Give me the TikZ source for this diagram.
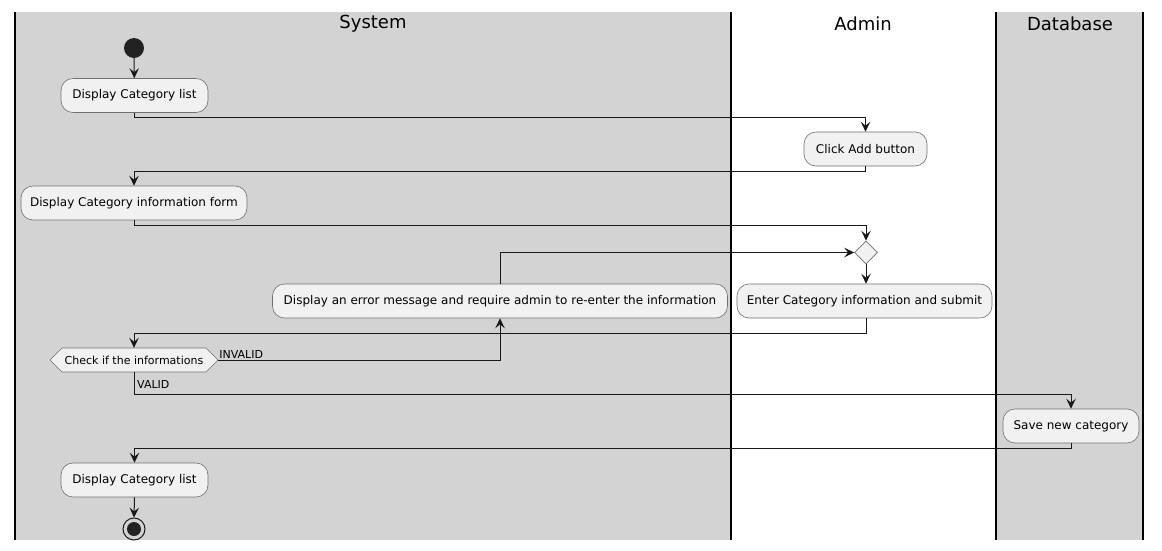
\documentclass[tikz,border=0pt]{standalone}
\usepackage{fontspec}
\setmainfont{DejaVu Sans}
\usetikzlibrary{arrows.meta,shapes.geometric}
\definecolor{lanegray}{HTML}{D3D3D3}
\definecolor{boxfill}{HTML}{F1F1F1}
\definecolor{boxline}{HTML}{707070}
\definecolor{ink}{HTML}{181818}
\definecolor{dot}{HTML}{222222}
\begin{document}
\begin{tikzpicture}[x=1pt,y=-1pt,
 act/.style={draw=boxline, line width=0.6pt, fill=boxfill, rounded corners=12pt, minimum height=34pt, inner sep=0pt, font=\fontsize{12}{14}\selectfont, text=black},
 flow/.style={draw=ink, line width=1pt, -{Stealth[length=10pt,width=9.5pt,inset=4pt]}},
 lane/.style={line width=1.5pt, draw=black},
 title/.style={font=\fontsize{18}{20}\selectfont},
 lbl/.style={font=\fontsize{11}{13}\selectfont, inner sep=1pt}]
\useasboundingbox (0,0) rectangle (1162,550);
\fill[white] (0,0) rectangle (1162,550);
\fill[lanegray] (15,12) rectangle (731,540);
\fill[lanegray] (996,12) rectangle (1143,540);
\draw[lane] (15,12) -- (15,540);
\draw[lane] (731,12) -- (731,540);
\draw[lane] (996,12) -- (996,540);
\draw[lane] (1143,12) -- (1143,540);
\node[title] (tsys) at (373,23.5) {System};
\node[title] (tadm) at (863,23.5) {Admin};
\node[title] (tdb) at (1070,23.5) {Database};

\node[circle, fill=dot, minimum size=20pt, inner sep=0pt] (start) at (134,48) {};
\node[act, minimum width=147pt] (list1) at (134.5,95.5) {Display Category list};
\node[act, minimum width=123pt] (click) at (865.5,149) {Click Add button};
\node[act, minimum width=226pt] (form) at (134,203) {Display Category information form};
\node[diamond, draw=boxline, line width=0.6pt, fill=boxfill, minimum width=23pt, minimum height=23pt, inner sep=0pt] (merge) at (866,252.5) {};
\node[act, minimum width=455pt] (err) at (500,301) {Display an error message and require admin to re-enter the information};
\node[act, minimum width=255pt] (enter) at (864.5,301) {Enter Category information and submit};
\path[fill=boxfill, draw=boxline, line width=0.6pt] (62,348) -- (206,348) -- (218,360) -- (206,372) -- (62,372) -- (50,360) -- cycle;
\node[minimum width=168pt, minimum height=24pt, inner sep=0pt, font=\fontsize{11}{13}\selectfont] (check) at (134,360) {Check if the informations};
\node[act, minimum width=136pt] (save) at (1071,426) {Save new category};
\node[act, minimum width=147pt] (list2) at (134.5,480) {Display Category list};
\node[circle, draw=ink, line width=1pt, minimum size=22pt, inner sep=0pt] (end) at (134,529) {};
\fill[dot] (end.center) circle (7pt);

\draw[flow] (start) -- (list1);
\draw[flow] (list1.south) -- ++(0,5) -| (click.north);
\draw[flow] (click.south) -- ++(0,5) -| (form.north);
\draw[flow] (form.south) -- ++(0,5) -| (merge.north);
\draw[flow] (err.north) |- (merge.west);
\draw[flow] (merge.south) -- (enter.north -| merge.south);
\draw[flow] (enter.south -| merge) -- ++(0,15) -| (check.north);
\draw[flow] (check.east) -| (err.south);
\node[lbl, anchor=south west] (linv) at (check.east) {INVALID};
\draw[flow] (check.south) -- ++(0,22) -| (save.north);
\node[lbl, anchor=west] (lval) at ([xshift=2pt,yshift=-12pt]check.south) {VALID};
\draw[flow] (save.south) -- ++(0,5) -| (list2.north);
\draw[flow] (list2.south) -- (end.north);
\end{tikzpicture}
\end{document}
